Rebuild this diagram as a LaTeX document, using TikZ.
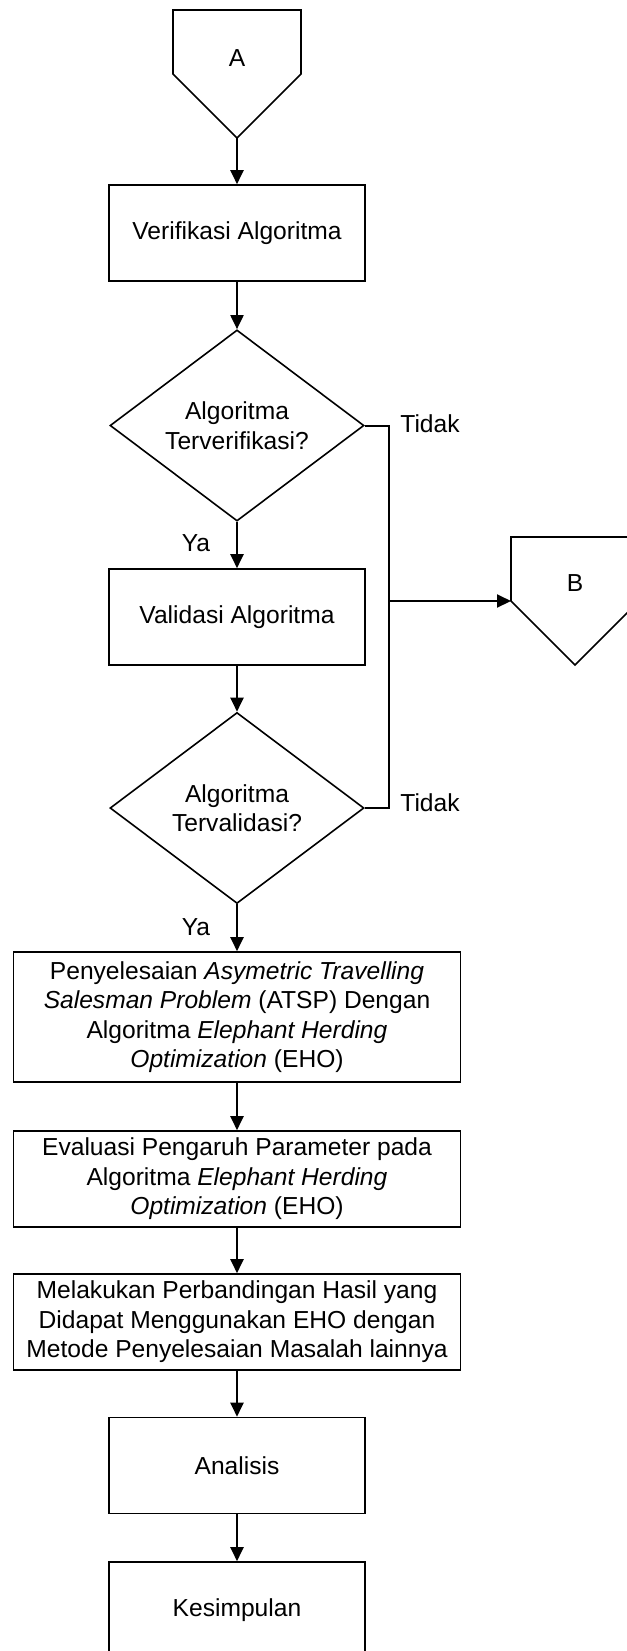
\documentclass[tikz,border=0pt]{standalone}
\usepackage{fontspec}
\setmainfont{Liberation Sans}
\usetikzlibrary{shapes.geometric,arrows.meta}

\begin{document}
\begin{tikzpicture}[x=0.5pt,y=-0.5pt,font=\fontsize{12.3pt}{14.75pt}\selectfont,
  proses/.style={draw,line width=0.8pt,minimum width=128pt,minimum height=48pt,inner sep=0pt,align=center},
  proseslebar/.style={proses,minimum width=223.5pt},
  keputusan/.style={draw,diamond,line width=0.8pt,minimum width=127pt,minimum height=95.5pt,inner sep=0pt,align=center},
  konektor/.style={draw,line width=0.8pt},
  garis/.style={line width=1pt},
  panah/.style={line width=1pt,-{Triangle[length=7pt,width=6.5pt]}}]
\useasboundingbox (0,0) rectangle (627,1651);
\clip (0,0) rectangle (627,1651);
\draw[konektor] (173,10)--(301,10)--(301,74)--(237,138)--(173,74)--cycle;
\coordinate (Aujung) at (237,138);
\node (A) at (237,58) {A};
\draw[konektor] (511,537)--(639,537)--(639,601)--(575,665)--(511,601)--cycle;
\coordinate (Bkiri) at (511,601);
\node (B) at (575,583) {B};
\node[proses] (verif) at (237,233) {Verifikasi Algoritma};
\node[keputusan] (cekverif) at (237,425.5) {Algoritma\\Terverifikasi?};
\node[proses] (valid) at (237,617) {Validasi Algoritma};
\node[keputusan] (cekvalid) at (237,808) {Algoritma\\Tervalidasi?};
\node[proseslebar,minimum height=65pt] (atsp) at (237,1017) {Penyelesaian \textit{Asymetric Travelling}\\\textit{Salesman Problem} (ATSP) Dengan\\Algoritma \textit{Elephant Herding}\\\textit{Optimization} (EHO)};
\node[proseslebar] (eval) at (237,1179) {Evaluasi Pengaruh Parameter pada\\Algoritma \textit{Elephant Herding}\\\textit{Optimization} (EHO)};
\node[proseslebar] (banding) at (237,1322) {Melakukan Perbandingan Hasil yang\\Didapat Menggunakan EHO dengan\\Metode Penyelesaian Masalah lainnya};
\node[proses] (analisis) at (237,1465.5) {Analisis};
\node[proses] (simpulan) at (237,1610) {Kesimpulan};
\node[anchor=west,inner sep=0pt] (tidak1) at (400,424) {Tidak};
\node[anchor=west,inner sep=0pt] (tidak2) at (400,803) {Tidak};
\node (ya1) at (196,543) {Ya};
\node (ya2) at (196,927) {Ya};
\draw[panah] (Aujung) -- (verif);
\draw[panah] (verif) -- (cekverif);
\draw[panah] (cekverif) -- (valid);
\draw[panah] (valid) -- (cekvalid);
\draw[panah] (cekvalid) -- (atsp);
\draw[panah] (atsp) -- (eval);
\draw[panah] (eval) -- (banding);
\draw[panah] (banding) -- (analisis);
\draw[panah] (analisis) -- (simpulan);
\coordinate (jalur) at (389,0);
\draw[garis] (cekverif.east) -- (cekverif.east -| jalur) -- (cekvalid.east -| jalur) -- (cekvalid.east);
\draw[panah] (Bkiri -| jalur) -- (Bkiri);
\end{tikzpicture}
\end{document}
